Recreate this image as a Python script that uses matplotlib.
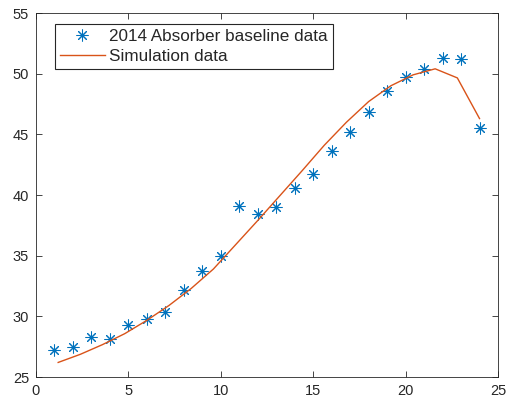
import matplotlib
matplotlib.use("Agg")
import matplotlib.pyplot as plt

plt.rcParams['font.family'] = ['Liberation Sans', 'DejaVu Sans']

# Measured data
x_meas = list(range(1, 25))
y_meas = [27.2, 27.5, 28.3, 28.1, 29.3, 29.75, 30.35, 32.2, 33.7, 35.0,
          39.1, 38.45, 39.05, 40.6, 41.7, 43.6, 45.2, 46.8, 48.6, 49.7,
          50.4, 51.3, 51.2, 45.5]

# Simulation data
x_sim = [1.2, 2.4, 3.6, 4.8, 6.0, 7.2, 8.4, 9.6, 10.8, 12.0,
         13.2, 14.4, 15.6, 16.8, 18.0, 19.2, 20.4, 21.6, 22.8, 24.0]
y_sim = [26.2, 26.87, 27.67, 28.57, 29.67, 30.9, 32.3, 33.9, 35.9, 37.9,
         39.95, 42.0, 44.1, 46.0, 47.7, 49.0, 49.9, 50.4, 49.65, 46.3]

xticks = [0, 5, 10, 15, 20, 25]
yticks = [25, 30, 35, 40, 45, 50, 55]

fig = plt.figure(figsize=(5.07, 4.03), dpi=100)
ax = fig.add_axes([36/507, 1 - 377/403, 462/507, 364/403])

ax.plot(x_meas, y_meas, linestyle='none', marker=(8, 2, 0),
        markeredgecolor='#0072BD', color='#0072BD',
        markersize=8.5, markeredgewidth=0.75, label='2014 Absorber baseline data')
ax.plot(x_sim, y_sim, color='#D95319', linewidth=1.0, label='Simulation data')

ax.set_xlim(0, 25)
ax.set_ylim(25, 55)
ax.set_xticks(xticks)
ax.set_yticks(yticks)

axcol = '#262626'
for s in ax.spines.values():
    s.set_color(axcol)
    s.set_linewidth(0.6)
ax.tick_params(direction='in', length=4, width=0.6, color=axcol,
               labelcolor=axcol, labelsize=10.5, top=True, right=True,
               pad=5)

leg = ax.legend(loc='upper left', bbox_to_anchor=(19/462, 1 - 11/364),
                borderaxespad=0, fancybox=False, shadow=False,
                edgecolor='#262626', framealpha=1, fontsize=12.3,
                handlelength=2.6, handletextpad=0.25, borderpad=0.3,
                labelspacing=0.3)
leg.get_frame().set_linewidth(0.8)
for t in leg.get_texts():
    t.set_color(axcol)

fig.savefig('out.png', dpi=100)
